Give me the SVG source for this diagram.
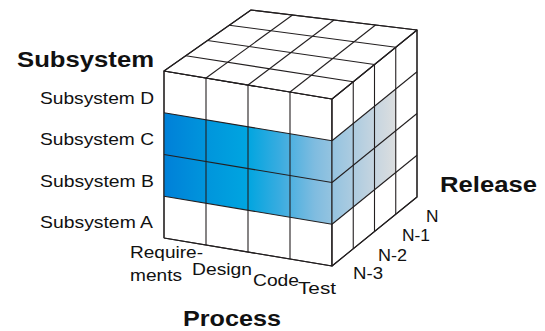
<svg xmlns="http://www.w3.org/2000/svg" width="545" height="331" viewBox="0 0 545 331">
<style>
.ln{fill:none;stroke:#231F20;stroke-width:1.1;stroke-linejoin:round}
.face{fill:#ffffff;stroke:#231F20;stroke-width:1.1;stroke-linejoin:round}
.band{fill:url(#g);stroke:none}
.lbl{font-family:"Liberation Sans",Arial,sans-serif;font-size:17px;fill:#111}
.ttl{font-family:"Liberation Sans",Arial,sans-serif;font-size:22px;font-weight:bold;fill:#111}
</style>
<defs>
<linearGradient id="g" gradientUnits="userSpaceOnUse" x1="164" y1="0" x2="396" y2="0">
<stop offset="0" stop-color="#0080D8"/>
<stop offset="0.18" stop-color="#0095DC"/>
<stop offset="0.36" stop-color="#00A5E0"/>
<stop offset="0.5" stop-color="#3AACE0"/>
<stop offset="0.65" stop-color="#7FBCE0"/>
<stop offset="0.72" stop-color="#93C3E0"/>
<stop offset="0.81" stop-color="#ABCBE0"/>
<stop offset="0.9" stop-color="#C4D4E0"/>
<stop offset="1" stop-color="#DCDEDF"/>
</linearGradient>
</defs>
<g id="cube">
<g id="front-face">
<polygon class="face" points="164,71 332,99 332,266 164,238"/>
<polygon class="band" points="164,112.75 332,140.75 332,224.25 164,196.25"/>
</g>
<g id="right-face">
<polygon class="face" points="332,99 417,30 417,197 332,266"/>
<polygon class="band" points="332,140.75 395.75,89 395.75,172.5 332,224.25"/>
</g>
<g id="top-face">
<polygon class="face" points="164,71 251,10 417,30 332,99"/>
</g>
<g id="grid">
<!-- front face rows -->
<line class="ln" x1="164" y1="112.75" x2="332" y2="140.75"/>
<line class="ln" x1="164" y1="154.5" x2="332" y2="182.5"/>
<line class="ln" x1="164" y1="196.25" x2="332" y2="224.25"/>
<!-- front face columns -->
<line class="ln" x1="206" y1="78" x2="206" y2="245"/>
<line class="ln" x1="248" y1="85" x2="248" y2="252"/>
<line class="ln" x1="290" y1="92" x2="290" y2="259"/>
<!-- right face rows -->
<line class="ln" x1="332" y1="140.75" x2="417" y2="71.75"/>
<line class="ln" x1="332" y1="182.5" x2="417" y2="113.5"/>
<line class="ln" x1="332" y1="224.25" x2="417" y2="155.25"/>
<!-- right face depth verticals -->
<line class="ln" x1="353.25" y1="81.75" x2="353.25" y2="248.75"/>
<line class="ln" x1="374.5" y1="64.5" x2="374.5" y2="231.5"/>
<line class="ln" x1="395.75" y1="47.25" x2="395.75" y2="214.25"/>
<!-- top face depth lines -->
<line class="ln" x1="185.75" y1="55.75" x2="353.25" y2="81.75"/>
<line class="ln" x1="207.5" y1="40.5" x2="374.5" y2="64.5"/>
<line class="ln" x1="229.25" y1="25.25" x2="395.75" y2="47.25"/>
<!-- top face column lines -->
<line class="ln" x1="206" y1="78" x2="292.5" y2="15"/>
<line class="ln" x1="248" y1="85" x2="334" y2="20"/>
<line class="ln" x1="290" y1="92" x2="375.5" y2="25"/>
</g>
<g id="outline">
<polyline class="ln" points="164,238 164,71 251,10 417,30 417,197 332,266 164,238"/>
<polyline class="ln" points="164,71 332,99 417,30"/>
<line class="ln" x1="332" y1="99" x2="332" y2="266"/>
</g>
</g>
<g id="subsystem-axis">
<text class="ttl" x="17" y="67" font-size="23" textLength="137" lengthAdjust="spacingAndGlyphs">Subsystem</text>
<text class="lbl" x="40" y="104" textLength="114" lengthAdjust="spacingAndGlyphs">Subsystem D</text>
<text class="lbl" x="40" y="145" textLength="114" lengthAdjust="spacingAndGlyphs">Subsystem C</text>
<text class="lbl" x="40" y="187" textLength="114" lengthAdjust="spacingAndGlyphs">Subsystem B</text>
<text class="lbl" x="40" y="228" textLength="113" lengthAdjust="spacingAndGlyphs">Subsystem A</text>
</g>
<g id="process-axis">
<text class="lbl" x="130" y="258" textLength="73" lengthAdjust="spacingAndGlyphs">Require-</text>
<text class="lbl" x="130" y="281" textLength="52" lengthAdjust="spacingAndGlyphs">ments</text>
<text class="lbl" x="192" y="275" textLength="60" lengthAdjust="spacingAndGlyphs">Design</text>
<text class="lbl" x="253" y="286" textLength="46" lengthAdjust="spacingAndGlyphs">Code</text>
<text class="lbl" x="298" y="294" textLength="38" lengthAdjust="spacingAndGlyphs">Test</text>
<text class="ttl" x="183" y="326" textLength="98" lengthAdjust="spacingAndGlyphs">Process</text>
</g>
<g id="release-axis">
<text class="lbl" x="353" y="279" textLength="30" lengthAdjust="spacingAndGlyphs">N-3</text>
<text class="lbl" x="378" y="261" textLength="29" lengthAdjust="spacingAndGlyphs">N-2</text>
<text class="lbl" x="402" y="241" textLength="28" lengthAdjust="spacingAndGlyphs">N-1</text>
<text class="lbl" x="426" y="222" textLength="12.5" lengthAdjust="spacingAndGlyphs">N</text>
<text class="ttl" x="440" y="192" textLength="97" lengthAdjust="spacingAndGlyphs">Release</text>
</g>
</svg>
